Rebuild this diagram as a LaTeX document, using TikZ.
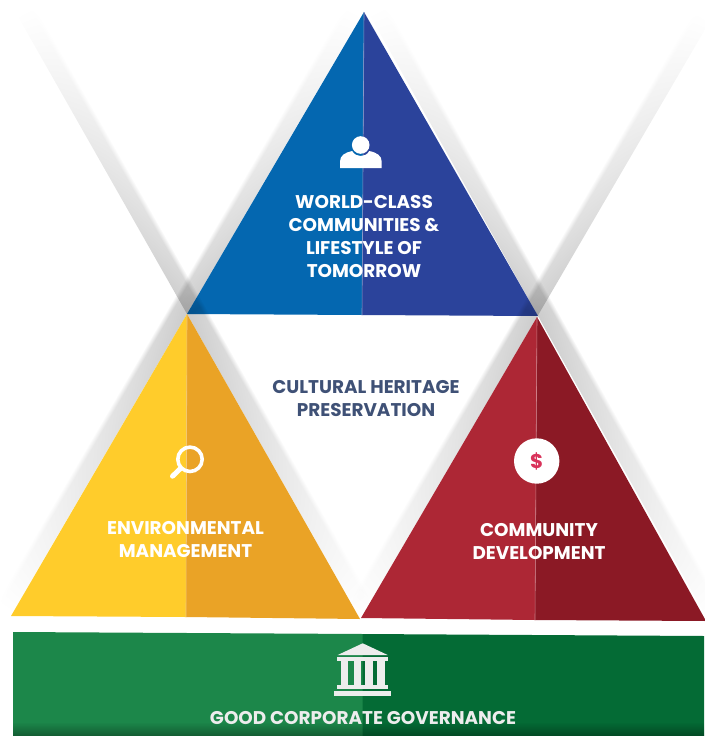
\documentclass[tikz,border=0pt]{standalone}
\usepackage{fontspec}
\setmainfont{Poppins}
\definecolor{blueL}{HTML}{0467B0}
\definecolor{blueR}{HTML}{2B439B}
\definecolor{yelL}{HTML}{FFCC2B}
\definecolor{yelR}{HTML}{EAA326}
\definecolor{redL}{HTML}{AD2735}
\definecolor{redR}{HTML}{8B1925}
\definecolor{grnL}{HTML}{1C874A}
\definecolor{grnR}{HTML}{046B35}
\definecolor{heritage}{HTML}{3F5176}
\definecolor{dollar}{HTML}{D9325A}
\pgfdeclarefunctionalshading{bandsh}{\pgfpoint{-50bp}{-50bp}}{\pgfpoint{50bp}{50bp}}{}{
  25 add 50 div
  dup 0.2 mul 1 exch sub
  exch 1 exch sub 0.3 div
  2 copy gt {exch} if pop
  exch abs 25 div 1 exch sub
  mul 0.2 mul 1 exch sub
  dup dup
}
\newcommand\shadowband[4]{%
  \begin{scope}[blend mode=multiply,transform canvas={shift={(#1pt,-#2pt)},rotate=#3},x=1pt,y=1pt]
    \shade[shading=bandsh] (-#4,0) rectangle (#4,19.5);
  \end{scope}}
\tikzset{
  x=1pt,y=-1pt,
  lab/.style={font=\bfseries\fontsize{18.4}{23}\selectfont,align=center,inner sep=0pt,text=white},
  icon/.style={fill=white,draw=none},
  seam/.style={line width=0.6pt}
}
\begin{document}
\begin{tikzpicture}
\useasboundingbox (0,0) rectangle (704,736);
% shadow bands
\shadowband{187}{314}{-60.4}{345}
\shadowband{187}{314}{59.7}{347}
\shadowband{538}{316}{-60.8}{347}
\shadowband{537}{317}{59.7}{345}
% green bar
\fill[grnL] (13,632) -- (363,634) -- (363,736) -- (13,736) -- cycle;
\fill[grnR] (362.5,634) -- (704,636) -- (704,736) -- (362.5,736) -- cycle;
% top triangle
\fill[blueL] (364,12) -- (187,314) -- (362,315) -- cycle;
\fill[blueR] (364,12) -- (538,316) -- (362,315) -- cycle;
\draw[seam,color=blueR!55!white] (364,12) -- (362,315);
% left triangle
\fill[yelL] (187,314) -- (11,616) -- (186,617) -- cycle;
\fill[yelR] (187,314) -- (360,619) -- (186,617) -- cycle;
\draw[seam,color=yelR!60!white] (187,314) -- (186,617);
% right triangle
\fill[redL] (537,317) -- (361,618) -- (535,620) -- cycle;
\fill[redR] (537,317) -- (706,621) -- (535,620) -- cycle;
\draw[seam,color=redL!60!white] (537,317) -- (535,620);
% corner darkening on the blue triangle
\begin{scope}
  \clip (364,12) -- (187,314) -- (538,316) -- cycle;
  \shadowband{187}{314}{-60.4}{32}
  \shadowband{537}{317}{59.7}{32}
\end{scope}
% person icon
\fill[icon] (340,168) -- (340,161.5) .. controls (340,155.5) and (345,152.5) .. (352.2,151) .. controls (354,154.5) and (357.5,156) .. (360.7,156) .. controls (364,156) and (367.5,154.5) .. (369.2,151) .. controls (376.5,152.5) and (381.7,155.5) .. (381.7,161.5) -- (381.7,168) -- cycle;
\node[circle,icon,minimum size=17.6pt,inner sep=0pt] (head) at (360.7,145) {};
% magnifier icon
\coordinate (lensc) at (190,459.3);
\draw[white,line width=3.6pt] (lensc) circle[radius=12.2];
\draw[white,line width=5pt,line cap=round] (180.5,468.5) -- (172.5,476.2);
% dollar icon
\node[circle,fill=white,minimum size=45.4pt,inner sep=0pt,text=dollar,font=\bfseries\fontsize{20}{20}\selectfont] (dollarmark) at (536.7,461) {\$};
% building icon
\begin{scope}[fill=white!93!black]
  \fill (362.7,643.3) -- (387.7,655) -- (337.7,655) -- cycle;
  \fill (337.3,656.7) rectangle (388.3,660.7);
  \fill (340.7,660.7) rectangle (348.3,685);
  \fill (354.3,660.7) rectangle (361,685);
  \fill (365.3,660.7) rectangle (372.7,685);
  \fill (377.3,660.7) rectangle (385,685);
  \fill (337.3,685) rectangle (388.3,689.3);
  \fill (334,690.7) rectangle (391,696);
\end{scope}
% labels
\node[lab] (world) at (364,237) {WORLD-CLASS\\COMMUNITIES \&\\LIFESTYLE OF\\TOMORROW};
\node[lab,text=heritage] (culture) at (366,399) {CULTURAL HERITAGE\\PRESERVATION};
\node[lab] (env) at (185.5,539) {ENVIRONMENTAL\\MANAGEMENT};
\node[lab] (comm) at (539,542) {COMMUNITY\\DEVELOPMENT};
\node[lab,text=white!93!black] (gov) at (363,718) {GOOD CORPORATE GOVERNANCE};
% bottom shadow on the bar
\begin{scope}[blend mode=multiply]
  \shade[top color=white,bottom color=black!32!white] (13,722) rectangle (704,736);
\end{scope}
\end{tikzpicture}
\end{document}
